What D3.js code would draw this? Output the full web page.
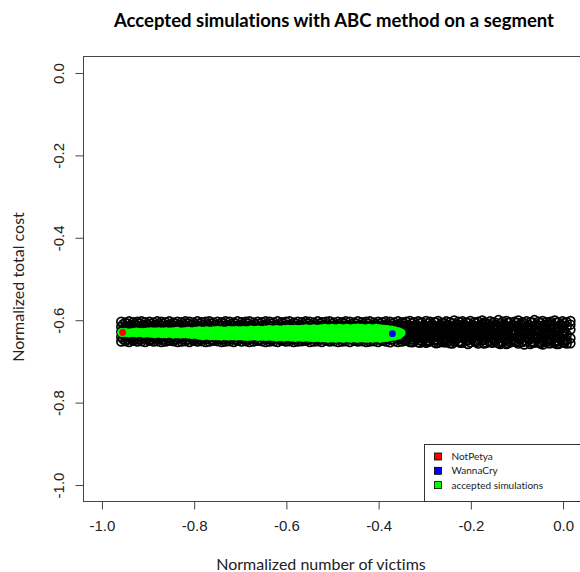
<!DOCTYPE html>
<html>
<head>
<meta charset="utf-8">
<script src="https://cdn.jsdelivr.net/npm/d3@7"></script>
<style>
  body { margin: 0; background: #fff; }
  svg { display: block; }
  text { font-variant-ligatures: none; }
</style>
</head>
<body>
<div class="chart"></div>
<script>
// All simulations (open black circles), one column of points per x value
var simX = [
  -0.957, -0.948, -0.940, -0.931, -0.922, -0.913, -0.905, -0.896, -0.887, -0.879,
  -0.870, -0.861, -0.853, -0.844, -0.835, -0.826, -0.818, -0.809, -0.800, -0.792,
  -0.783, -0.774, -0.766, -0.757, -0.748, -0.739, -0.731, -0.722, -0.713, -0.705,
  -0.696, -0.687, -0.679, -0.670, -0.661, -0.652, -0.644, -0.635, -0.626, -0.618,
  -0.609, -0.600, -0.592, -0.583, -0.574, -0.565, -0.557, -0.548, -0.539, -0.531,
  -0.522, -0.513, -0.505, -0.496, -0.487, -0.478, -0.470, -0.461, -0.452, -0.444,
  -0.435, -0.426, -0.418, -0.409, -0.400, -0.391, -0.383, -0.374, -0.365, -0.357,
  -0.348, -0.339, -0.331, -0.322, -0.313, -0.304, -0.296, -0.287, -0.278, -0.270,
  -0.261, -0.252, -0.244, -0.235, -0.226, -0.217, -0.209, -0.200, -0.191, -0.183,
  -0.174, -0.165, -0.157, -0.148, -0.139, -0.130, -0.122, -0.113, -0.104, -0.096,
  -0.087, -0.078, -0.070, -0.061, -0.052, -0.043, -0.035, -0.026, -0.017, -0.009,
  0.000, 0.009, 0.017, 0.026, 0.035, 0.044
];
var simY = [
  [-0.605,-0.617,-0.630,-0.642,-0.653], [-0.607,-0.619,-0.628,-0.640,-0.652], [-0.604,-0.616,-0.631,-0.643,-0.654],
  [-0.606,-0.618,-0.629,-0.641,-0.651], [-0.605,-0.615,-0.627,-0.644,-0.653], [-0.604,-0.620,-0.632,-0.639,-0.652],
  [-0.606,-0.616,-0.628,-0.642,-0.654], [-0.605,-0.618,-0.630,-0.640,-0.651], [-0.607,-0.617,-0.629,-0.643,-0.653],
  [-0.604,-0.619,-0.631,-0.641,-0.652], [-0.605,-0.615,-0.628,-0.642,-0.654], [-0.606,-0.618,-0.630,-0.639,-0.653],
  [-0.604,-0.617,-0.629,-0.644,-0.651], [-0.607,-0.616,-0.632,-0.640,-0.652], [-0.605,-0.619,-0.627,-0.643,-0.654],
  [-0.606,-0.618,-0.630,-0.641,-0.653], [-0.604,-0.615,-0.628,-0.642,-0.652], [-0.605,-0.620,-0.631,-0.640,-0.654],
  [-0.607,-0.617,-0.629,-0.643,-0.651], [-0.604,-0.616,-0.630,-0.641,-0.653], [-0.606,-0.619,-0.628,-0.644,-0.652],
  [-0.605,-0.618,-0.632,-0.639,-0.654], [-0.604,-0.615,-0.627,-0.642,-0.653], [-0.607,-0.617,-0.631,-0.640,-0.651],
  [-0.605,-0.620,-0.629,-0.643,-0.652], [-0.606,-0.616,-0.630,-0.641,-0.654], [-0.604,-0.618,-0.628,-0.644,-0.653],
  [-0.605,-0.619,-0.631,-0.640,-0.652], [-0.607,-0.615,-0.629,-0.642,-0.654], [-0.604,-0.617,-0.630,-0.643,-0.651],
  [-0.606,-0.618,-0.627,-0.641,-0.653], [-0.605,-0.616,-0.632,-0.639,-0.652], [-0.604,-0.620,-0.628,-0.644,-0.654],
  [-0.607,-0.617,-0.630,-0.642,-0.653], [-0.605,-0.619,-0.629,-0.640,-0.651], [-0.606,-0.615,-0.631,-0.643,-0.652],
  [-0.604,-0.618,-0.628,-0.641,-0.654], [-0.605,-0.616,-0.630,-0.644,-0.653], [-0.607,-0.620,-0.627,-0.639,-0.652],
  [-0.604,-0.617,-0.632,-0.642,-0.654], [-0.606,-0.619,-0.629,-0.640,-0.651], [-0.605,-0.615,-0.630,-0.643,-0.653],
  [-0.604,-0.618,-0.628,-0.641,-0.652], [-0.607,-0.616,-0.631,-0.644,-0.654], [-0.605,-0.620,-0.629,-0.640,-0.653],
  [-0.606,-0.617,-0.627,-0.642,-0.652], [-0.604,-0.619,-0.630,-0.643,-0.651], [-0.605,-0.615,-0.632,-0.641,-0.654],
  [-0.607,-0.618,-0.628,-0.639,-0.653], [-0.604,-0.616,-0.631,-0.644,-0.652], [-0.606,-0.620,-0.629,-0.642,-0.654],
  [-0.605,-0.617,-0.630,-0.640,-0.651], [-0.604,-0.619,-0.627,-0.643,-0.653], [-0.607,-0.615,-0.632,-0.641,-0.652],
  [-0.605,-0.618,-0.628,-0.644,-0.654], [-0.606,-0.616,-0.630,-0.639,-0.653], [-0.604,-0.620,-0.629,-0.642,-0.652],
  [-0.605,-0.617,-0.631,-0.640,-0.654], [-0.607,-0.619,-0.628,-0.643,-0.651], [-0.604,-0.615,-0.630,-0.641,-0.653],
  [-0.606,-0.618,-0.627,-0.644,-0.652], [-0.605,-0.616,-0.632,-0.640,-0.654], [-0.604,-0.620,-0.629,-0.642,-0.653],
  [-0.607,-0.617,-0.630,-0.643,-0.652], [-0.605,-0.619,-0.628,-0.639,-0.654], [-0.606,-0.615,-0.631,-0.641,-0.651],
  [-0.604,-0.618,-0.629,-0.644,-0.653], [-0.605,-0.616,-0.630,-0.642,-0.655], [-0.607,-0.620,-0.627,-0.640,-0.652],
  [-0.604,-0.617,-0.632,-0.643,-0.654], [-0.606,-0.619,-0.628,-0.641,-0.653], [-0.605,-0.615,-0.630,-0.644,-0.651],
  [-0.603,-0.618,-0.629,-0.640,-0.654], [-0.606,-0.616,-0.631,-0.642,-0.652], [-0.604,-0.620,-0.628,-0.643,-0.655],
  [-0.607,-0.617,-0.630,-0.645,-0.653], [-0.603,-0.619,-0.633,-0.641,-0.656], [-0.605,-0.614,-0.627,-0.646,-0.652],
  [-0.606,-0.621,-0.634,-0.648,-0.655], [-0.603,-0.616,-0.629,-0.642,-0.656], [-0.608,-0.624,-0.637,-0.651,-0.654],
  [-0.604,-0.613,-0.631,-0.645,-0.655], [-0.606,-0.620,-0.628,-0.640,-0.657], [-0.602,-0.617,-0.635,-0.649,-0.653],
  [-0.605,-0.625,-0.638,-0.653,-0.612], [-0.604,-0.614,-0.630,-0.644,-0.656], [-0.607,-0.621,-0.633,-0.650,-0.643],
  [-0.603,-0.618,-0.627,-0.641,-0.655], [-0.606,-0.626,-0.639,-0.652,-0.615], [-0.605,-0.615,-0.632,-0.647,-0.658],
  [-0.602,-0.622,-0.636,-0.649,-0.611], [-0.608,-0.619,-0.629,-0.643,-0.656], [-0.604,-0.627,-0.640,-0.654,-0.616],
  [-0.606,-0.613,-0.634,-0.651,-0.623], [-0.601,-0.620,-0.631,-0.645,-0.657], [-0.605,-0.624,-0.638,-0.653,-0.612],
  [-0.603,-0.616,-0.628,-0.648,-0.659], [-0.607,-0.629,-0.642,-0.655,-0.617], [-0.605,-0.614,-0.633,-0.650,-0.624],
  [-0.602,-0.621,-0.637,-0.646,-0.658], [-0.606,-0.626,-0.641,-0.654,-0.613], [-0.604,-0.617,-0.630,-0.652,-0.643],
  [-0.606,-0.623,-0.635,-0.647,-0.659], [-0.601,-0.615,-0.639,-0.656,-0.627], [-0.605,-0.628,-0.644,-0.655,-0.614],
  [-0.603,-0.619,-0.632,-0.650,-0.660], [-0.606,-0.625,-0.637,-0.653,-0.612], [-0.605,-0.613,-0.634,-0.648,-0.657],
  [-0.602,-0.622,-0.643,-0.656,-0.629], [-0.607,-0.618,-0.630,-0.651,-0.659], [-0.604,-0.627,-0.640,-0.654,-0.614],
  [-0.606,-0.616,-0.636,-0.649,-0.658], [-0.603,-0.624,-0.645,-0.657,-0.612]
];
// second, interleaved set of columns of the same cloud
var simX2 = [
  -0.953, -0.944, -0.935, -0.927, -0.918, -0.909, -0.900, -0.892, -0.883, -0.874,
  -0.866, -0.857, -0.848, -0.840, -0.831, -0.822, -0.813, -0.805, -0.796, -0.787,
  -0.779, -0.770, -0.761, -0.753, -0.744, -0.735, -0.727, -0.718, -0.709, -0.700,
  -0.692, -0.683, -0.674, -0.666, -0.657, -0.648, -0.640, -0.631, -0.622, -0.613,
  -0.605, -0.596, -0.587, -0.579, -0.570, -0.561, -0.553, -0.544, -0.535, -0.526,
  -0.518, -0.509, -0.500, -0.492, -0.483, -0.474, -0.466, -0.457, -0.448, -0.439,
  -0.431, -0.422, -0.413, -0.405, -0.396, -0.387, -0.379, -0.370, -0.361, -0.352,
  -0.344, -0.335, -0.326, -0.318, -0.309, -0.300, -0.292, -0.283, -0.274, -0.265,
  -0.257, -0.248, -0.239, -0.231, -0.222, -0.213, -0.205, -0.196, -0.187, -0.178,
  -0.170, -0.161, -0.152, -0.144, -0.135, -0.126, -0.118, -0.109, -0.100, -0.091,
  -0.083, -0.074, -0.065, -0.057, -0.048, -0.039, -0.031, -0.022, -0.013, -0.004,
  0.004, 0.013, 0.022, 0.030, 0.039
];
var simY2 = [
  [-0.611,-0.623,-0.636,-0.647], [-0.610,-0.624,-0.635,-0.648], [-0.612,-0.622,-0.637,-0.646], [-0.611,-0.625,-0.634,-0.647],
  [-0.610,-0.623,-0.636,-0.648], [-0.612,-0.624,-0.635,-0.646], [-0.611,-0.622,-0.637,-0.647], [-0.610,-0.625,-0.636,-0.648],
  [-0.612,-0.623,-0.634,-0.646], [-0.611,-0.624,-0.635,-0.647], [-0.610,-0.622,-0.637,-0.648], [-0.612,-0.625,-0.636,-0.646],
  [-0.611,-0.623,-0.634,-0.647], [-0.610,-0.624,-0.635,-0.648], [-0.612,-0.622,-0.636,-0.646], [-0.611,-0.625,-0.637,-0.647],
  [-0.610,-0.623,-0.634,-0.648], [-0.612,-0.624,-0.635,-0.646], [-0.611,-0.622,-0.636,-0.647], [-0.610,-0.625,-0.637,-0.648],
  [-0.612,-0.623,-0.634,-0.646], [-0.611,-0.624,-0.635,-0.647], [-0.610,-0.622,-0.636,-0.648], [-0.612,-0.625,-0.637,-0.646],
  [-0.611,-0.623,-0.634,-0.647], [-0.610,-0.624,-0.635,-0.648], [-0.612,-0.622,-0.636,-0.646], [-0.611,-0.625,-0.637,-0.647],
  [-0.610,-0.623,-0.634,-0.648], [-0.612,-0.624,-0.635,-0.646], [-0.611,-0.622,-0.636,-0.647], [-0.610,-0.625,-0.637,-0.648],
  [-0.612,-0.623,-0.634,-0.646], [-0.611,-0.624,-0.635,-0.647], [-0.610,-0.622,-0.636,-0.648], [-0.612,-0.625,-0.637,-0.646],
  [-0.611,-0.623,-0.634,-0.647], [-0.610,-0.624,-0.635,-0.648], [-0.612,-0.622,-0.636,-0.646], [-0.611,-0.625,-0.637,-0.647],
  [-0.610,-0.623,-0.634,-0.648], [-0.612,-0.624,-0.635,-0.646], [-0.611,-0.622,-0.636,-0.647], [-0.610,-0.625,-0.637,-0.648],
  [-0.612,-0.623,-0.634,-0.646], [-0.611,-0.624,-0.635,-0.647], [-0.610,-0.622,-0.636,-0.648], [-0.612,-0.625,-0.637,-0.646],
  [-0.611,-0.623,-0.634,-0.647], [-0.610,-0.624,-0.635,-0.648], [-0.612,-0.622,-0.636,-0.646], [-0.611,-0.625,-0.637,-0.647],
  [-0.610,-0.623,-0.634,-0.648], [-0.612,-0.624,-0.635,-0.646], [-0.611,-0.622,-0.636,-0.647], [-0.610,-0.625,-0.637,-0.648],
  [-0.612,-0.623,-0.634,-0.646], [-0.611,-0.624,-0.635,-0.647], [-0.610,-0.622,-0.636,-0.648], [-0.612,-0.625,-0.637,-0.646],
  [-0.611,-0.623,-0.634,-0.647], [-0.610,-0.624,-0.635,-0.648], [-0.612,-0.622,-0.636,-0.646], [-0.611,-0.625,-0.637,-0.647],
  [-0.610,-0.623,-0.634,-0.648], [-0.612,-0.624,-0.635,-0.646], [-0.611,-0.622,-0.636,-0.647], [-0.610,-0.625,-0.637,-0.648],
  [-0.612,-0.623,-0.634,-0.646], [-0.611,-0.624,-0.635,-0.647], [-0.610,-0.622,-0.636,-0.648], [-0.612,-0.625,-0.637,-0.646],
  [-0.609,-0.621,-0.633,-0.647,-0.655], [-0.612,-0.626,-0.638,-0.645], [-0.608,-0.620,-0.635,-0.649,-0.656], [-0.613,-0.624,-0.632,-0.646],
  [-0.609,-0.627,-0.639,-0.651,-0.654], [-0.611,-0.619,-0.634,-0.644], [-0.607,-0.623,-0.637,-0.650,-0.657], [-0.612,-0.628,-0.641,-0.646],
  [-0.608,-0.620,-0.631,-0.648,-0.655], [-0.614,-0.625,-0.638,-0.652], [-0.609,-0.618,-0.635,-0.645,-0.658], [-0.611,-0.627,-0.640,-0.649],
  [-0.607,-0.622,-0.633,-0.653,-0.656], [-0.613,-0.624,-0.639,-0.646], [-0.608,-0.619,-0.636,-0.650,-0.659], [-0.612,-0.628,-0.642,-0.647],
  [-0.609,-0.621,-0.632,-0.651,-0.655], [-0.614,-0.626,-0.637,-0.644], [-0.607,-0.618,-0.634,-0.649,-0.658], [-0.611,-0.623,-0.640,-0.652],
  [-0.608,-0.629,-0.638,-0.646,-0.656], [-0.613,-0.620,-0.633,-0.650], [-0.609,-0.625,-0.641,-0.654,-0.659], [-0.612,-0.618,-0.636,-0.645],
  [-0.607,-0.622,-0.639,-0.651,-0.657], [-0.614,-0.627,-0.634,-0.648], [-0.608,-0.619,-0.632,-0.653,-0.655], [-0.611,-0.624,-0.642,-0.646],
  [-0.609,-0.628,-0.637,-0.650,-0.660], [-0.613,-0.621,-0.635,-0.647], [-0.607,-0.617,-0.640,-0.652,-0.656], [-0.612,-0.626,-0.633,-0.645],
  [-0.608,-0.623,-0.638,-0.654,-0.658], [-0.614,-0.620,-0.641,-0.649], [-0.609,-0.629,-0.636,-0.651,-0.657], [-0.611,-0.618,-0.634,-0.646],
  [-0.607,-0.625,-0.639,-0.653,-0.659], [-0.613,-0.622,-0.643,-0.648], [-0.608,-0.627,-0.635,-0.650,-0.656]
];

// Accepted simulations (green), one column of points per x value
var acceptedX = [
  -0.956, -0.948, -0.940, -0.932, -0.924, -0.916, -0.908, -0.900, -0.892, -0.884,
  -0.876, -0.868, -0.860, -0.852, -0.844, -0.836, -0.828, -0.820, -0.812, -0.804,
  -0.796, -0.788, -0.780, -0.772, -0.764, -0.756, -0.748, -0.740, -0.732, -0.724,
  -0.716, -0.708, -0.700, -0.692, -0.684, -0.676, -0.668, -0.660, -0.652, -0.644,
  -0.636, -0.628, -0.620, -0.612, -0.604, -0.596, -0.588, -0.580, -0.572, -0.564,
  -0.556, -0.548, -0.540, -0.532, -0.524, -0.516, -0.508, -0.500, -0.492, -0.484,
  -0.476, -0.468, -0.460, -0.452, -0.444, -0.436, -0.428, -0.420, -0.412, -0.404,
  -0.396, -0.388, -0.380, -0.372, -0.364, -0.356, -0.350
];
var acceptedY = [
  [-0.631], [-0.631], [-0.632], [-0.631], [-0.630,-0.632], [-0.631], [-0.631,-0.633], [-0.630,-0.632],
  [-0.629,-0.633], [-0.630,-0.634], [-0.629,-0.633], [-0.630,-0.634], [-0.629,-0.634], [-0.630,-0.633],
  [-0.629,-0.635], [-0.628,-0.634], [-0.630,-0.635], [-0.629,-0.634], [-0.628,-0.635], [-0.629,-0.636],
  [-0.628,-0.635], [-0.627,-0.633,-0.638], [-0.628,-0.633,-0.639], [-0.627,-0.634,-0.638], [-0.628,-0.632,-0.639],
  [-0.627,-0.633,-0.639], [-0.626,-0.634,-0.639], [-0.627,-0.633,-0.640], [-0.628,-0.632,-0.639],
  [-0.626,-0.633,-0.640], [-0.627,-0.634,-0.639], [-0.626,-0.632,-0.640], [-0.627,-0.633,-0.639],
  [-0.626,-0.634,-0.640], [-0.627,-0.633,-0.641], [-0.625,-0.632,-0.640], [-0.626,-0.634,-0.639],
  [-0.625,-0.633,-0.641], [-0.626,-0.632,-0.640], [-0.625,-0.634,-0.641], [-0.624,-0.633,-0.640],
  [-0.625,-0.632,-0.641], [-0.624,-0.633,-0.642], [-0.625,-0.634,-0.641], [-0.624,-0.632,-0.642],
  [-0.623,-0.633,-0.641], [-0.624,-0.632,-0.642], [-0.623,-0.634,-0.643], [-0.624,-0.633,-0.642],
  [-0.623,-0.631,-0.643], [-0.622,-0.632,-0.642], [-0.623,-0.633,-0.643], [-0.622,-0.631,-0.644],
  [-0.623,-0.632,-0.643], [-0.622,-0.634,-0.644], [-0.621,-0.630,-0.638,-0.644], [-0.622,-0.631,-0.639,-0.645],
  [-0.621,-0.630,-0.638,-0.644], [-0.622,-0.629,-0.637,-0.645], [-0.621,-0.630,-0.639,-0.644],
  [-0.622,-0.631,-0.638,-0.645], [-0.621,-0.629,-0.637,-0.644], [-0.622,-0.630,-0.639,-0.645],
  [-0.621,-0.631,-0.638,-0.644], [-0.620,-0.630,-0.637,-0.645], [-0.621,-0.629,-0.638,-0.644],
  [-0.622,-0.631,-0.639,-0.645], [-0.621,-0.630,-0.638,-0.644], [-0.622,-0.629,-0.637,-0.645],
  [-0.621,-0.630,-0.639,-0.644], [-0.622,-0.631,-0.638,-0.645], [-0.623,-0.630,-0.638,-0.644],
  [-0.624,-0.631,-0.639,-0.643], [-0.625,-0.633,-0.641], [-0.627,-0.634,-0.640], [-0.629,-0.637], [-0.632]
];

// Observed attacks
var eventNames = ["NotPetya", "WannaCry"];
var eventX = [-0.954, -0.369];
var eventY = [-0.631, -0.634];
var eventColors = ["#ff0000", "#0000ff"];

// Legend and axes
var legendLabels = ["NotPetya", "WannaCry", "accepted simulations"];
var legendColors = ["#ff0000", "#0000ff", "#00ff00"];
var xTicks = [-1.0, -0.8, -0.6, -0.4, -0.2, 0.0];
var yTicks = [0.0, -0.2, -0.4, -0.6, -0.8, -1.0];

var svgWidth = 580;
var svgHeight = 572;

// plot region (R style box)
var margin = { top: 56, left: 83, bottom: 71 };
var plotRight = 581;
var plotBottom = svgHeight - margin.bottom;

var svg = d3.select(".chart")
            .append("svg")
            .attr("width", svgWidth)
            .attr("height", svgHeight);

// Scales, padded 4% like base R graphics
var xScale = d3.scaleLinear().domain([-1.04, 0.04]).range([margin.left, plotRight]);
var yScale = d3.scaleLinear().domain([0.04, -1.04]).range([margin.top, plotBottom]);

// R prints a plain hyphen for negative numbers
var rFormat = d => d.toFixed(1);

svg.append("clipPath")
   .attr("id", "plotClip")
   .append("rect")
   .attr("x", margin.left)
   .attr("y", margin.top)
   .attr("width", plotRight - margin.left)
   .attr("height", plotBottom - margin.top);

var plotArea = svg.append("g").attr("clip-path", "url(#plotClip)");

// flatten the columns into points
function toPoints(xs, ys) {
    var pts = [];
    xs.forEach(function(x, i) {
        (ys[i] || []).forEach(function(y) { pts.push({ x: x, y: y }); });
    });
    return pts;
}
var simPoints = toPoints(simX, simY).concat(toPoints(simX2, simY2));
var acceptedPoints = toPoints(acceptedX, acceptedY);

// all simulations
plotArea.append("g")
        .selectAll("circle")
        .data(simPoints)
        .enter()
        .append("circle")
        .attr("cx", d => xScale(d.x))
        .attr("cy", d => yScale(d.y))
        .attr("r", 4.4)
        .attr("fill", "none")
        .attr("stroke", "#000")
        .attr("stroke-width", 1.7);

// accepted simulations
plotArea.append("g")
        .selectAll("circle")
        .data(acceptedPoints)
        .enter()
        .append("circle")
        .attr("cx", d => xScale(d.x))
        .attr("cy", d => yScale(d.y))
        .attr("r", 4.5)
        .attr("fill", "#00ff00");

// NotPetya and WannaCry
plotArea.append("g")
        .selectAll("circle")
        .data(eventNames)
        .enter()
        .append("circle")
        .attr("cx", (d, i) => xScale(eventX[i]))
        .attr("cy", (d, i) => yScale(eventY[i]))
        .attr("r", 3.4)
        .attr("fill", (d, i) => eventColors[i]);

// box
svg.append("rect")
   .attr("x", margin.left + 0.5)
   .attr("y", margin.top + 0.5)
   .attr("width", plotRight - margin.left)
   .attr("height", plotBottom - margin.top)
   .attr("fill", "none")
   .attr("stroke", "#444")
   .attr("stroke-width", 1);

// Axes
var bottomAxis = d3.axisBottom(xScale)
                   .tickValues(xTicks)
                   .tickSize(8)
                   .tickPadding(11)
                   .tickFormat(rFormat);
var leftAxis = d3.axisLeft(yScale)
                 .tickValues(yTicks)
                 .tickSize(8)
                 .tickFormat(rFormat);

var xAxisG = svg.append("g")
                .attr("transform", `translate(0.5, ${plotBottom + 0.5})`)
                .call(bottomAxis);
var yAxisG = svg.append("g")
                .attr("transform", `translate(${margin.left + 0.5}, 0.5)`)
                .call(leftAxis);

[xAxisG, yAxisG].forEach(function(g) {
    g.select(".domain").remove();
    g.selectAll("line").attr("stroke", "#444");
    g.selectAll("text")
     .attr("fill", "#222")
     .style("font-family", "'Liberation Sans', Arial, sans-serif")
     .style("font-size", "15px");
});
xAxisG.selectAll("text").attr("dy", "0.71em");

// y tick labels read bottom to top, as in R
yAxisG.selectAll(".tick text")
      .attr("x", null)
      .attr("dy", null)
      .attr("text-anchor", "middle")
      .attr("transform", "translate(-19.5, 0) rotate(-90)");

// Title and axis labels
svg.append("text")
   .attr("x", 334)
   .attr("y", 27)
   .attr("text-anchor", "middle")
   .style("font-family", "Lato, 'Open Sans', sans-serif")
   .style("font-weight", "bold")
   .style("font-size", "18.5px")
   .attr("fill", "#000")
   .text("Accepted simulations with ABC method on a segment");

svg.append("text")
   .attr("x", 321)
   .attr("y", 570)
   .attr("text-anchor", "middle")
   .style("font-family", "Lato, 'Open Sans', sans-serif")
   .style("font-size", "16px")
   .attr("fill", "#222")
   .text("Normalized number of victims");

svg.append("text")
   .attr("transform", "translate(23.5, 287) rotate(-90)")
   .attr("text-anchor", "middle")
   .style("font-family", "Lato, 'Open Sans', sans-serif")
   .style("font-size", "16px")
   .attr("fill", "#222")
   .text("Normalized total cost");

// Legend in the bottom right corner
var legend = svg.append("g").attr("transform", "translate(424.5, 444.5)");
legend.append("rect")
      .attr("width", 170)
      .attr("height", plotBottom - 444)
      .attr("fill", "#fff")
      .attr("stroke", "#333");

var legendItems = legend.selectAll(".item")
                        .data(legendLabels)
                        .enter()
                        .append("g")
                        .attr("class", "item")
                        .attr("transform", (d, i) => `translate(0, ${12 + i * 14.3})`);

legendItems.append("rect")
           .attr("x", 10)
           .attr("y", -3.5)
           .attr("width", 7)
           .attr("height", 7)
           .attr("fill", (d, i) => legendColors[i])
           .attr("stroke", "#000")
           .attr("stroke-width", 0.8);

legendItems.append("text")
           .attr("x", 27)
           .attr("y", 3.5)
           .style("font-family", "Lato, 'Open Sans', sans-serif")
           .style("font-size", "10px")
           .attr("fill", "#222")
           .text(d => d);
</script>
</body>
</html>
